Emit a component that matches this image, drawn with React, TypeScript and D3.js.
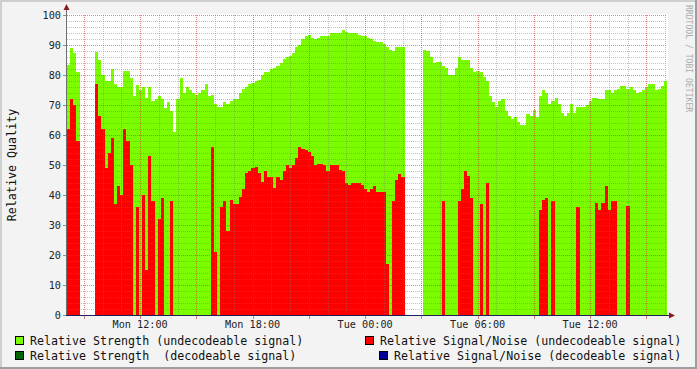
import React from "react";
import * as d3 from "d3";

// 10-minute steps starting Mon 08:06, 32 hours (192 steps)
const START = new Date(2023, 0, 2, 8, 6);
const STEP_MINUTES = 10;
const N = NaN;

const strengthUndecodeable: number[] = [
  83.5, 89, 87.5, 81, N, N, N, N, N, 87.8, 85, 80, 78, 78, 82, 77, 76, 76, 81.5, 81.5,
  79, 73, 76.7, 75, 76, 72.5, 76, 71.4, 72, 73, 72, 69, 71, 68, 61, 72, 79, 74, 76, 75,
  74, 73.5, 74, 75, 77, 73, 73.5, 70.5, 69.5, 69.5, 71, 70.5, 71.5, 72, 72, 74, 75.5, 76, 77, 77.5,
  78, 78.5, 80, 81, 81, 82, 82.5, 83, 84, 85.5, 86, 86.5, 87.5, 89.5, 90, 92, 93, 93.5, 92.5, 92,
  92.5, 93, 93, 93, 94, 94, 94, 94, 95, 94.5, 94, 94, 94, 93.5, 93, 93, 92.5, 92, 91.5, 91,
  91, 90.5, 89.5, 88.5, 88, 89.5, 89.5, 89.5, N, N, N, N, N, N, 88.5, 88, 86, 84, 84.5, 84.5,
  83, 82.5, 80, 80, 82.5, 86, 85, 85, 85, 82.5, 81, 81.5, 81, 79.5, 78, 73, 71, 69.5, 71.5, 72,
  68, 66.5, 65.5, 66, 64.5, 63.5, 63.5, 67, 66.5, 68.5, 66, 73, 75, 74, 70.5, 71.5, 72.5, 70.5, 67.5, 66.5,
  67.5, 70.5, 67.5, 69.5, 69.5, 69.5, 70, 71.5, 72.5, 72.5, 72, 72, 75, 75, 74, 75, 75.5, 76.5, 76.5, 75.5,
  76, 75, 74, 74.5, 75, 76, 77, 77, 75, 75.5, 76.5, 78,
];

const snrUndecodeable: number[] = [
  62, 72, 70, 58, N, N, N, N, N, 77, 66.5, 62, 49, 54, 59, 37, 43, 40, 62, 58,
  50, 0, 36, 0, 40, 15, 53, 38, 0, 32, 39, 0, 0, 38, 0, 0, 0, 0, 0, 0,
  0, 0, 0, 0, 0, 0, 56, 21, 0, 36, 38, 28, 38.5, 37, 37, 39.5, 42, 47.5, 48, 49,
  49.5, 47.5, 44.5, 48, 46, 46, 42.5, 46, 45, 48, 50, 49, 50, 52.5, 56, 55.5, 55, 54.5, 53, 50,
  50.5, 50.5, 50, 48, 50, 50, 50, 48.5, 48, 44, 43.5, 44, 44, 44, 43.5, 42, 41, 42, 43, 41,
  41, 41, 17, 0, 38, 45, 47, 46, N, N, N, N, N, N, 0, 0, 0, 0, 0, 0,
  38, 0, 0, 0, 0, 38, 42, 48, 46.5, 39, 0, 0, 37, 0, 44, 0, 0, 0, 0, 0,
  0, 0, 0, 0, 0, 0, 0, 0, 0, 0, 0, 35, 38.5, 39, 0, 38, 0, 0, 0, 0,
  0, 0, 0, 36, 0, 0, 0, 0, 0, 37.5, 35, 37.5, 43, 35, 38, 38, 0, 0, 0, 36.5,
  0, 0, 0, 0, 0, 0, 0, 0, 0, 0, 0, 0,
];

const yTicks = [0, 10, 20, 30, 40, 50, 60, 70, 80, 90, 100];

const legendItems = [
  { label: "Relative Strength (undecodeable signal)", color: "#7CFC00" },
  { label: "Relative Signal/Noise (undecodeable signal)", color: "#FF0000" },
  { label: "Relative Strength  (decodeable signal)", color: "#006400" },
  { label: "Relative Signal/Noise (decodeable signal)", color: "#000099" },
];

const W = 697;
const H = 369;
const X0 = 67;
const X1 = 667;
const Y0 = 315;
const Y1 = 15;
const MONO = "'DejaVu Sans Mono', 'Liberation Mono', monospace";

type Pt = { t: Date; v: number };

function stepPoints(values: number[]): Pt[] {
  const pts: Pt[] = [];
  values.forEach((v, i) => {
    const a = new Date(START.getTime() + i * STEP_MINUTES * 60000);
    const b = new Date(START.getTime() + (i + 1) * STEP_MINUTES * 60000);
    pts.push({ t: a, v }, { t: b, v });
    if (i < values.length - 1 && isNaN(values[i + 1]) !== isNaN(v)) {
      pts.push({ t: b, v: NaN });
    }
  });
  return pts;
}

export default function App() {
  const end = new Date(START.getTime() + 32 * 3600000);
  const x = d3.scaleTime().domain([START, end]).range([X0, X1]);
  const y = d3.scaleLinear().domain([0, 100]).range([Y0, Y1]);

  const area = d3
    .area<Pt>()
    .defined((d) => !isNaN(d.v))
    .x((d) => x(d.t))
    .y0(y(0))
    .y1((d) => y(d.v));

  const greenPath = area(stepPoints(strengthUndecodeable)) || "";
  const redPath = area(stepPoints(snrUndecodeable)) || "";

  const minorH = d3.range(0, 101, 2).filter((v) => v % 10 !== 0);
  const hours = x.ticks(d3.timeHour.every(1)!);
  const majorX = hours.filter((d) => d.getHours() % 3 === 0);
  const minorX = hours.filter((d) => d.getHours() % 3 !== 0);
  const labelX = hours.filter((d) => d.getHours() % 6 === 0);
  const fmt = d3.timeFormat("%a %H:%M");
  const px = (v: number) => Math.round(v) + 0.5;
  const minorColor = "rgba(120,120,120,0.45)";
  const majorColor = "rgba(215,50,50,0.6)";

  return (
    <svg
      width={W}
      height={H}
      style={{ position: "absolute", left: 0, top: 0, display: "block" }}
      xmlns="http://www.w3.org/2000/svg"
    >
      <rect x={0} y={0} width={W} height={H} fill="#F3F3F3" />
      {/* shade border */}
      <rect x={0} y={0} width={W} height={2} fill="#CFCFCF" />
      <rect x={0} y={0} width={2} height={H} fill="#CFCFCF" />
      <rect x={0} y={H - 2} width={W} height={2} fill="#9E9E9E" />
      <rect x={W - 2} y={0} width={2} height={H} fill="#9E9E9E" />

      {/* canvas */}
      <rect x={X0} y={Y1 - 1} width={X1 - X0 + 1} height={Y0 - Y1 + 1} fill="#FFFFFF" />

      {/* data */}
      <path d={greenPath} fill="#7CFC00" shapeRendering="crispEdges" />
      <path d={redPath} fill="#FF0000" shapeRendering="crispEdges" />

      {/* grid */}
      <g shapeRendering="crispEdges" strokeDasharray="1,1">
        {minorH.map((v) => (
          <line key={"mh" + v} x1={X0} x2={X1} y1={px(y(v))} y2={px(y(v))} stroke={minorColor} />
        ))}
        {minorX.map((d, i) => (
          <line key={"mx" + i} x1={px(x(d))} x2={px(x(d))} y1={Y1} y2={Y0} stroke={minorColor} />
        ))}
        {yTicks.map((v) => (
          <line key={"Mh" + v} x1={X0} x2={X1} y1={px(y(v))} y2={px(y(v))} stroke={majorColor} />
        ))}
        {majorX.map((d, i) => (
          <line key={"Mx" + i} x1={px(x(d))} x2={px(x(d))} y1={Y1} y2={Y0} stroke={majorColor} />
        ))}
      </g>

      {/* axes */}
      <g shapeRendering="crispEdges">
        <line x1={X0 - 0.5} x2={X0 - 0.5} y1={Y0 + 1} y2={Y1 - 6} stroke="#707070" />
        <line x1={X0 - 1} x2={X1 + 4} y1={Y0 + 0.5} y2={Y0 + 0.5} stroke="#1E1E5A" />
        {yTicks.map((v) => (
          <line key={"yt" + v} x1={X0 - 4} x2={X0 - 1} y1={px(y(v))} y2={px(y(v))} stroke="#909090" />
        ))}
        {majorX.map((d, i) => (
          <line key={"xt" + i} x1={px(x(d))} x2={px(x(d))} y1={Y0 + 1} y2={Y0 + 4} stroke="#D08080" />
        ))}
      </g>
      {/* arrows */}
      <path d={`M${X0 - 3.5},${Y1 - 5} L${X0 + 2.5},${Y1 - 5} L${X0 - 0.5},${Y1 - 11} Z`} fill="#8B1A1A" />
      <path d={`M${X1 + 2},${Y0 - 2.5} L${X1 + 2},${Y0 + 3.5} L${X1 + 8},${Y0 + 0.5} Z`} fill="#8B1A1A" />

      {/* y labels */}
      {yTicks.map((v) => (
        <text
          key={"yl" + v}
          x={61}
          y={y(v) + 3.7}
          textAnchor="end"
          fontFamily={MONO}
          fontSize={10.2}
          fill="#222"
        >
          {v}
        </text>
      ))}
      {/* x labels */}
      {labelX.map((d, i) => (
        <text
          key={"xl" + i}
          x={x(d)}
          y={327.5}
          textAnchor="middle"
          fontFamily={MONO}
          fontSize={10.2}
          fill="#222"
        >
          {fmt(d)}
        </text>
      ))}

      {/* y title */}
      <text
        transform={`translate(15.5, ${(Y0 + Y1) / 2}) rotate(-90)`}
        textAnchor="middle"
        fontFamily={MONO}
        fontSize={11.7}
        fill="#111"
      >
        Relative Quality
      </text>

      {/* watermark */}
      <text
        transform="translate(685.5, 5) rotate(90)"
        fontFamily={MONO}
        fontSize={8.1}
        fill="#ABABAB"
      >
        RRDTOOL / TOBI OETIKER
      </text>

      {/* legend */}
      {legendItems.map((it, i) => {
        const row = Math.floor(i / 2);
        const col = i % 2;
        const by = 336 + row * 14.5;
        const bx = col === 0 ? 15 : i === 1 ? 365 : 379;
        return (
          <g key={"lg" + i}>
            <rect x={bx + 0.5} y={by + 0.5} width={8} height={8} fill={it.color} stroke="#000" shapeRendering="crispEdges" />
            <text
              x={bx + 15}
              y={by + 9}
              fontFamily={MONO}
              fontSize={11.65}
              fill="#111"
              style={{ whiteSpace: "pre" }}
              xmlSpace="preserve"
            >
              {it.label}
            </text>
          </g>
        );
      })}
    </svg>
  );
}
